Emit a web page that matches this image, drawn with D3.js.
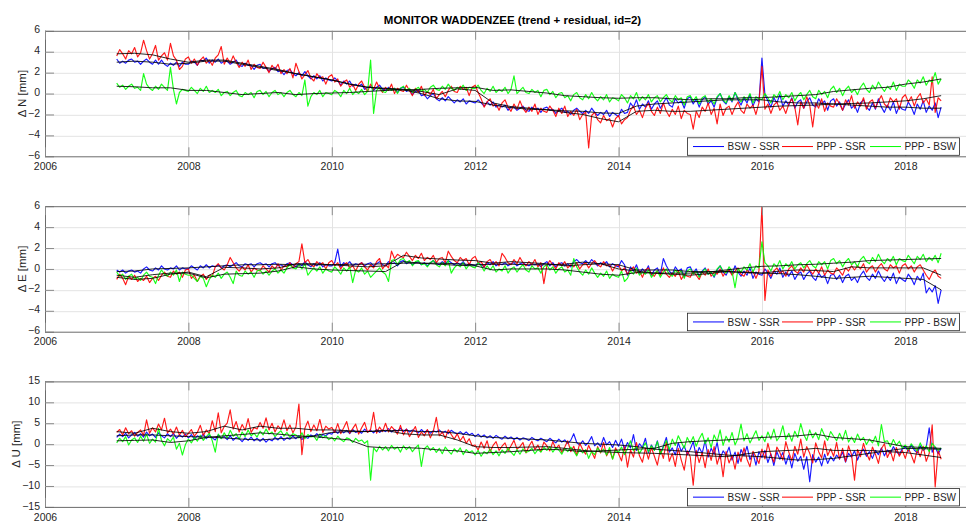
<!DOCTYPE html>
<html><head><meta charset="utf-8">
<script src="https://cdn.jsdelivr.net/npm/d3@7"></script>
<style>
body{margin:0;background:#fff;}
svg{display:block;font-family:"Liberation Sans",Arial,Helvetica,sans-serif;}
</style></head><body>
<svg id="chart" width="966" height="523"></svg>
<script>
// ---------------- DATA ----------------
const chartTitle = "MONITOR WADDENZEE (trend + residual, id=2)";
const seriesNames = ["BSW - SSR", "PPP - SSR", "PPP - BSW"];
const xTickYears = [2006, 2008, 2010, 2012, 2014, 2016, 2018];
const yTicksNE = [-6, -4, -2, 0, 2, 4, 6];
const yTicksU = [-15, -10, -5, 0, 5, 10, 15];
const firstEpoch = 2007.0;        // first sample (decimal year)
const residualStep = 1 / 24;      // residual samples: twice a month
const trendStep = 1 / 4;          // trend samples: once a quarter

// North residual series (mm), 2007.0 .. 2018.5
const N_BSW_SSR = [
3.3,2.9,3.1,2.9,3.2,3.3,3.0,3.1,2.8,3.1,3.3,3.0,2.8,3.2,2.8,3.2,2.8,2.6,2.9,2.7,3.0,2.6,3.0,2.8,
2.8,3.1,3.0,2.7,3.2,3.1,3.4,2.9,3.2,3.0,3.3,2.9,3.1,3.1,2.8,3.0,3.2,2.7,2.6,2.9,2.7,2.7,2.3,2.7,
2.8,2.4,2.5,2.1,2.4,2.5,2.1,2.2,1.8,2.2,2.3,1.9,1.7,2.0,1.7,2.1,1.7,1.4,1.7,1.4,1.7,1.2,1.5,1.3,
1.2,1.5,1.2,0.8,1.2,0.9,1.2,0.7,0.9,0.7,0.9,0.4,0.6,0.7,0.3,0.6,0.8,0.4,0.3,0.6,0.4,0.5,0.1,0.5,
0.6,0.2,0.4,-0.1,0.2,0.3,-0.2,-0.1,-0.5,-0.2,0.0,-0.5,-0.7,-0.4,-0.7,-0.3,-0.6,-0.9,-0.6,-0.8,-0.5,-1.0,-0.7,-0.8,
-0.9,-0.6,-0.9,-1.2,-0.8,-1.1,-0.8,-1.3,-1.1,-1.3,-1.1,-1.6,-1.3,-1.3,-1.6,-1.4,-1.2,-1.6,-1.7,-1.3,-1.5,-1.4,-1.8,-1.4,
-1.3,-1.6,-1.5,-1.9,-1.6,-1.4,-1.8,-1.7,-2.0,-1.6,-1.4,-1.7,-1.9,-1.6,-1.9,-1.4,-1.8,-2.1,-1.8,-2.0,-1.6,-2.2,-1.8,-2.0,
-2.2,-1.5,-1.9,-1.8,-0.9,-1.3,-0.6,-1.5,-1.0,-1.3,-0.7,-1.5,-1.0,-0.7,-1.4,-0.9,-0.4,-1.1,-1.3,-0.5,-0.9,-0.7,-1.4,-0.5,
-0.3,-1.0,-0.5,-1.3,-0.6,-0.3,-1.0,-0.7,-1.3,-0.4,0.0,-0.7,-1.0,-0.3,-0.8,0.1,-0.6,-1.1,-0.4,-0.9,-0.1,-1.2,-0.5,-0.8,
3.4,-0.1,-0.7,-1.3,-0.4,-0.9,-0.1,-1.2,-0.7,-1.1,-0.4,-1.4,-0.8,-0.6,-1.4,-0.8,-0.4,-1.1,-1.3,-0.5,-1.0,-0.7,-1.6,-0.7,
-0.5,-1.2,-0.8,-1.6,-1.0,-0.6,-1.4,-1.1,-1.8,-0.9,-0.6,-1.3,-1.6,-0.9,-1.5,-0.5,-1.3,-1.8,-1.1,-1.6,-0.8,-1.9,-1.2,-1.5,
-1.6,-0.8,-1.3,-2.0,-1.0,-1.5,-0.7,-1.8,-1.2,-1.6,-0.9,-2.3,-1.3];
const N_PPP_SSR = [
3.6,4.2,3.8,3.3,4.1,3.8,4.4,3.5,3.9,5.1,4.1,3.3,3.8,4.6,3.2,3.6,3.9,3.2,4.8,3.6,3.2,2.3,2.6,3.3,
3.5,2.9,3.3,2.7,3.2,3.5,2.9,3.2,2.7,3.4,3.7,4.5,2.8,3.4,2.9,3.6,3.0,2.5,3.0,2.6,3.2,2.3,2.8,2.5,
2.4,3.0,2.5,2.0,2.7,2.3,2.8,1.9,2.3,1.9,2.4,1.5,2.9,2.1,1.4,1.8,2.2,1.5,1.2,1.9,1.5,1.6,0.9,1.6,
1.8,1.1,1.4,0.7,1.1,1.3,0.6,0.9,0.3,0.9,1.2,0.6,0.2,0.9,0.4,1.1,0.5,0.1,0.6,0.3,0.9,0.0,0.5,0.3,
0.2,0.8,0.3,-0.2,0.5,0.1,0.7,-0.2,0.2,-0.1,0.4,-0.5,-0.1,0.2,-0.3,0.3,0.7,0.2,0.1,0.7,0.4,0.6,-0.2,0.6,
0.8,0.1,-0.5,-1.3,-0.8,-0.5,-1.2,-1.0,-1.6,-0.9,-0.6,-1.3,-1.7,-1.0,-1.5,-0.7,-1.4,-1.8,-1.3,-1.7,-1.0,-2.0,-1.4,-1.7,
-1.8,-1.2,-1.6,-2.2,-1.4,-1.9,-1.2,-2.2,-1.7,-2.1,-1.5,-2.5,-2.0,-1.8,-5.2,-2.1,-1.8,-2.5,-2.8,-2.1,-2.6,-2.4,-3.2,-2.4,
-2.1,-2.9,-2.5,-2.3,-1.6,-1.2,-2.0,-1.6,-2.3,-1.4,-0.9,-1.7,-2.1,-1.3,-1.9,-0.9,-1.7,-2.2,-1.5,-2.0,-1.2,-2.4,-1.6,-1.9,
-2.0,-3.4,-1.7,-2.3,-1.3,-1.7,-0.9,-2.0,-1.4,-2.9,-1.0,-2.1,-1.4,-1.2,-2.0,-1.3,-0.8,-1.6,-1.9,-1.0,-1.4,-1.1,-2.0,-0.9,
2.6,-1.5,-1.0,-1.9,-1.1,-0.8,-1.6,-1.2,-1.9,-1.0,-0.5,-1.3,-3.0,-0.8,-1.4,-0.3,-1.1,-3.2,-0.9,-1.4,-0.5,-1.7,-0.9,-1.2,
-1.3,-0.5,-1.0,-1.6,-0.6,-1.1,-0.2,-1.4,-0.8,-1.2,-0.4,-1.5,-0.8,-0.6,-1.4,-0.7,-0.2,-1.0,-1.3,-0.4,-0.8,-0.5,-1.5,-0.4,
-0.1,-0.8,-0.3,-1.2,-0.4,0.0,-0.9,-0.5,-1.1,1.6,-1.8,-0.4,-0.7];
const N_PPP_BSW = [
1.0,0.6,0.8,0.4,0.7,0.9,0.5,0.6,0.3,1.9,0.9,0.5,0.3,0.7,0.4,0.9,0.6,0.3,2.5,0.4,-1.0,0.1,0.4,0.3,
0.2,0.6,0.3,0.0,0.5,0.2,0.7,0.1,0.3,0.1,0.4,-0.2,0.1,0.2,-0.2,0.1,0.3,-0.2,-0.3,0.1,-0.1,0.1,-0.4,0.2,
0.3,-0.1,0.2,-0.3,0.1,0.3,-0.1,0.1,-0.3,0.1,0.3,-0.1,-0.3,0.1,-0.2,1.3,-1.2,-0.3,0.1,-0.1,0.3,-0.3,0.1,0.0,
-0.1,0.3,0.1,-0.3,0.3,0.0,0.5,-0.1,0.2,0.0,0.4,-0.1,0.2,3.2,-1.9,0.3,0.6,0.2,0.1,0.5,0.3,0.5,0.0,0.5,
0.7,0.3,0.5,0.1,0.4,0.6,0.2,0.4,0.1,0.6,0.8,0.4,0.3,0.7,0.4,0.9,0.5,0.3,0.6,0.4,0.8,0.3,0.6,0.5,
0.5,0.8,0.3,0.0,0.5,0.2,0.7,0.1,0.4,0.2,0.6,0.0,0.4,1.7,0.0,0.3,0.6,0.1,0.0,0.4,0.1,0.3,-0.3,0.3,
0.4,-0.1,0.2,-0.4,0.0,0.1,-0.4,-0.2,-0.7,-0.1,0.1,-0.4,-0.6,-0.1,-0.5,0.1,-0.4,-0.7,-0.3,-0.6,-0.1,-0.8,-0.4,-0.5,
-0.7,-0.1,-0.4,-0.9,-0.2,-0.5,0.1,-0.7,-0.3,-0.6,-0.1,-0.8,-0.4,-0.2,-0.8,-0.4,-0.1,-0.6,-0.8,-0.2,-0.6,-0.4,-1.1,-0.3,
-0.2,-0.7,-0.3,-1.0,-0.4,-0.2,-0.8,-0.5,-1.0,-0.3,0.0,-0.6,-0.9,-0.2,-0.7,0.1,-0.4,-0.8,-0.3,-0.6,0.0,-0.9,-0.3,-0.5,
-0.6,0.0,-0.4,-0.9,-0.1,-0.4,0.2,-0.6,-0.1,-0.4,0.1,-0.7,-0.2,0.1,-0.6,-0.1,0.3,-0.3,-0.5,0.3,-0.1,0.2,-0.4,0.4,
0.7,0.1,0.5,-0.2,0.4,0.7,0.1,0.4,-0.1,0.6,1.0,0.4,0.1,0.8,0.4,1.1,0.6,0.2,0.7,0.4,1.1,0.3,0.9,0.7,
0.7,1.3,1.0,0.5,1.3,1.0,1.6,0.8,1.3,1.1,2.0,0.9,1.4];

// East residual series (mm)
const E_BSW_SSR = [
-0.1,-0.3,-0.1,-0.4,-0.2,-0.1,-0.3,-0.2,-0.4,0.0,0.2,-0.1,-0.2,0.1,-0.1,0.3,0.0,-0.1,0.1,0.0,0.3,-0.1,0.1,0.0,
0.0,0.3,0.1,-0.1,0.3,0.1,0.4,0.1,0.3,0.2,0.4,0.1,0.3,0.4,0.2,0.4,0.6,0.3,0.2,0.5,0.4,0.5,0.2,0.5,
0.6,0.4,0.5,0.2,0.5,0.6,0.3,0.4,0.2,0.5,0.6,0.4,0.2,0.5,0.3,0.7,0.4,0.2,0.5,0.3,0.6,0.2,0.4,0.3,
0.3,0.6,1.9,0.2,0.6,0.4,0.7,0.3,0.5,0.4,0.6,0.3,0.5,0.6,0.3,0.5,0.7,0.4,0.3,0.7,0.5,0.6,0.3,0.7,
0.8,0.5,0.7,0.4,0.6,0.7,0.4,0.6,0.3,0.6,0.8,0.5,0.4,0.7,0.5,0.8,0.6,0.4,0.6,0.4,0.7,0.3,0.5,0.4,
0.3,0.6,0.4,0.2,0.6,0.4,0.7,0.3,0.5,0.4,0.6,0.3,0.5,0.6,0.3,0.5,0.6,0.4,0.3,0.5,0.4,0.5,0.2,0.5,
0.7,0.3,0.6,0.2,0.5,0.6,0.3,0.5,0.2,0.7,0.9,0.6,0.5,0.8,0.5,0.9,0.6,0.3,0.6,0.4,0.7,0.2,0.5,0.3,
0.2,0.8,0.4,-0.6,0.2,-0.2,0.4,-0.4,0.0,-0.3,0.3,-0.6,-0.1,0.1,-0.5,1.0,0.3,-0.2,-0.5,0.2,-0.2,0.0,-0.8,0.1,
0.2,-0.4,0.0,-0.7,-0.2,0.1,-0.5,-0.3,-0.8,-0.1,0.3,-0.3,-0.6,0.0,-0.5,0.3,-0.3,-0.7,-0.2,-0.6,0.1,-0.9,-0.3,-0.5,
-0.6,0.0,-0.4,-0.9,-0.2,-0.5,0.1,-0.8,-0.3,-0.7,-0.2,-1.0,-0.5,-0.3,-1.0,-0.5,-0.2,-0.8,-1.1,-0.4,-0.8,-0.6,-1.4,-0.6,
-0.5,-1.0,-0.6,-1.3,-0.7,-0.5,-1.1,-0.8,-1.3,-0.6,-0.2,-0.8,-1.1,-0.5,-0.9,-0.2,-0.8,-1.2,-0.7,-1.1,-0.4,-1.4,-0.8,-1.0,
-1.2,-0.5,-0.9,-1.5,-0.7,-1.1,-0.4,-2.3,-1.8,-2.2,-1.6,-3.3,-2.0];
const E_PPP_SSR = [
-1.0,-0.5,-0.9,-1.5,-0.7,-1.0,-0.6,-1.2,-0.9,-1.1,-0.7,-1.3,-0.9,-0.7,-1.1,-0.6,-0.3,-0.7,-0.8,-0.2,-0.5,-0.3,-0.8,-0.1,
0.0,-0.9,-0.6,-1.2,-0.7,-0.5,-1.0,-0.6,-0.7,0.2,0.5,0.1,-0.1,0.4,1.1,0.6,0.1,-0.2,0.2,-0.1,0.4,-0.3,0.1,-0.1,
-0.2,0.3,0.0,-0.3,0.3,0.0,0.5,-0.1,0.3,0.2,0.6,0.1,0.5,0.7,2.4,0.6,0.9,0.4,0.2,0.7,0.4,0.6,0.0,0.6,
0.8,0.3,0.6,0.0,0.4,0.6,0.1,0.3,-0.2,0.4,0.6,0.2,-0.1,0.4,0.1,0.7,1.0,0.0,0.4,0.1,1.7,1.0,1.4,1.2,
1.1,1.6,1.2,0.8,1.3,1.0,1.5,0.8,1.1,0.9,1.3,0.6,1.0,1.1,0.6,1.7,1.2,0.8,0.6,1.1,0.8,1.0,0.4,1.0,
1.2,0.6,0.7,0.2,0.7,0.9,0.4,0.7,0.3,1.5,1.1,0.6,0.4,0.9,0.5,1.1,0.6,0.3,0.7,0.4,0.9,0.2,0.6,-1.4,
0.3,0.8,0.4,0.0,0.6,0.3,0.7,0.1,0.4,0.2,0.6,0.0,0.4,0.6,0.1,0.5,0.8,0.4,0.2,0.7,0.3,0.4,-0.2,0.3,
0.4,-0.2,0.1,-0.5,-0.1,0.2,-0.4,-0.2,-0.8,-0.1,0.1,-0.5,-0.7,-0.2,-0.6,0.1,-0.5,-0.8,-0.4,-0.7,-0.2,-1.0,-0.5,-0.7,
-0.8,-0.2,-0.6,-1.0,-0.3,-0.6,0.0,-0.7,-0.3,-0.5,0.0,-0.7,-0.2,-0.1,-0.6,-0.2,0.1,-0.5,-0.7,-0.1,-0.4,-0.2,-0.9,-0.2,
6.0,-3.0,-0.1,-0.7,-0.2,0.1,-0.4,-0.2,-0.7,0.0,0.3,-0.2,-0.4,0.1,-0.3,0.4,-0.1,-0.5,0.0,-0.4,0.2,-0.6,-0.1,-0.4,
-0.5,0.1,-0.2,-0.6,0.1,-0.2,0.3,-0.1,0.3,0.0,0.5,-0.3,0.1,0.3,-0.3,0.2,0.5,0.0,-0.2,0.4,0.1,0.3,-0.4,0.3,
0.5,0.0,0.3,-0.3,0.2,0.4,-0.1,-0.6,-1.0,-0.4,-0.1,-0.7,-0.9];
const E_PPP_BSW = [
-0.3,-0.7,-0.5,-1.0,-0.7,-0.5,-1.0,-0.8,-1.1,-0.6,-0.3,-0.7,-0.8,-1.4,-0.6,-0.1,-0.5,-0.7,-0.3,-0.6,-0.1,-1.2,-0.3,-0.5,
-0.6,-0.6,-0.9,-1.2,-0.7,-0.9,-1.7,-1.0,-0.6,-0.8,-0.4,-0.9,-0.5,-0.3,-0.8,-1.4,-0.2,-0.6,-0.7,-0.2,-0.5,-0.3,-0.8,-0.2,
-0.1,-0.5,-0.2,-0.6,-0.2,0.0,-0.4,-0.1,-0.4,0.1,0.4,0.1,0.0,0.4,0.0,0.5,-0.6,-0.2,0.1,-0.2,0.2,-0.4,0.0,-0.2,
-0.3,0.2,-0.1,-0.5,0.1,-0.2,0.2,-1.3,-0.1,-0.3,0.1,-0.5,-0.2,-0.8,-0.5,-0.2,0.1,-0.3,-0.5,-1.2,0.8,0.9,0.4,0.9,
1.0,0.6,0.8,0.3,0.7,0.8,0.4,0.5,0.2,0.6,0.8,0.4,0.2,0.6,0.3,0.8,-0.4,0.1,0.4,0.2,0.6,0.0,0.4,0.2,
0.1,0.6,0.3,-0.2,0.3,-0.1,0.3,-0.3,0.0,-0.2,0.3,-0.4,0.0,0.2,-0.3,0.1,0.4,-0.1,-0.3,0.3,0.0,0.1,-0.4,0.2,
0.4,-0.1,0.2,-0.4,0.0,0.2,-0.3,-0.1,-0.6,1.0,0.2,-0.3,-0.6,-0.1,-0.5,0.1,-0.4,-0.8,-0.4,-0.7,-0.2,-0.9,-0.5,-0.7,
-0.8,-0.2,-1.2,-0.9,-0.2,-0.5,0.1,-0.6,-0.3,-0.5,-0.1,-0.8,-0.4,-0.2,-0.8,-0.3,0.0,-0.5,-0.7,-0.1,-0.4,-0.2,-0.9,-0.2,
0.0,-0.5,-0.2,-0.8,-0.3,0.0,-0.5,-0.3,-0.7,0.0,0.3,-0.2,-0.4,0.2,-0.2,-1.8,0.0,-0.3,0.2,-0.1,0.5,-0.3,0.3,0.1,
2.6,0.6,0.3,-0.2,0.5,0.2,0.8,0.0,0.5,0.2,0.7,0.0,0.4,0.6,0.1,0.5,0.8,0.3,0.1,0.7,0.4,0.7,0.0,0.8,
1.0,0.5,0.8,0.2,0.7,1.0,0.4,0.7,0.2,0.9,1.2,0.7,0.5,1.1,0.7,1.4,0.8,0.5,1.0,0.7,1.2,0.4,1.0,0.8,
0.7,1.3,0.9,0.5,1.2,0.9,1.4,0.7,1.1,0.8,1.3,0.6,1.5];

// Up residual series (mm)
const U_BSW_SSR = [
1.6,2.4,1.8,2.6,1.5,2.2,2.8,1.9,2.5,1.7,2.9,2.0,2.4,1.6,2.7,2.0,1.5,2.5,1.8,2.6,1.4,2.2,1.7,2.4,
1.5,2.3,1.2,2.0,1.6,2.4,1.3,2.1,1.5,1.0,2.2,1.4,1.8,1.1,2.0,0.9,1.6,1.3,0.6,1.5,0.9,1.7,0.8,1.4,
0.7,1.4,0.5,1.2,0.8,1.6,1.0,1.8,0.9,1.5,1.2,1.9,1.3,2.0,1.1,1.7,1.4,2.2,1.8,2.5,1.6,2.3,2.0,2.6,
2.4,3.2,2.6,3.4,2.7,3.3,2.5,3.5,2.8,3.1,2.6,3.6,2.9,3.3,2.7,3.5,2.8,3.4,3.0,3.7,2.9,3.5,3.1,3.8,
3.0,3.6,2.9,3.4,3.1,2.7,3.5,2.8,3.3,2.6,3.2,2.9,3.4,2.7,3.1,2.5,3.3,2.8,2.4,3.0,2.3,2.9,2.2,2.6,
1.8,2.4,1.7,2.2,1.5,2.0,1.4,2.1,1.6,1.2,1.9,1.3,1.7,1.1,1.6,1.0,1.5,1.3,0.9,1.6,1.1,0.8,1.4,1.0,
0.6,1.4,0.8,0.3,1.2,0.5,1.0,0.2,0.9,2.5,0.4,-0.2,0.8,-0.3,0.5,1.8,-0.4,0.3,-0.6,1.6,-0.2,0.6,-0.8,0.9,
-0.5,1.2,-1.3,0.4,-0.9,2.3,-1.5,0.1,-0.8,1.4,-2.0,-0.2,-1.4,0.8,-2.3,-0.5,1.6,-1.9,-0.9,-2.6,0.3,-1.7,-0.4,-2.5,
-1.2,0.6,-2.9,-0.8,-2.2,0.9,-3.1,-1.0,-2.4,0.4,-3.5,-1.6,-2.6,-0.7,-3.8,-1.9,-4.6,-1.3,-2.8,-0.5,-3.7,-2.1,-5.0,-1.8,
-3.2,-1.5,-4.4,-2.3,-5.1,-1.8,-3.6,-2.0,-4.8,-2.6,-5.7,-2.2,-4.1,-2.9,-6.0,-3.0,-9.0,-2.5,-4.3,-3.1,-5.2,-2.4,-4.6,-3.0,
-4.0,-2.6,-3.5,-1.9,-4.3,-2.2,-3.1,-1.6,-3.8,-2.0,-1.2,-2.9,-1.8,-3.4,-1.5,-2.5,-0.9,-2.8,-1.4,-2.2,-0.6,-1.8,-2.5,-1.1,
-0.6,-1.7,-0.2,-1.4,-2.1,-0.4,-1.5,-0.8,3.9,-1.9,-0.7,-2.3,-1.0];
const U_PPP_SSR = [
2.8,3.5,2.2,3.9,2.5,3.2,1.9,2.8,3.4,2.1,5.8,2.6,3.9,2.9,4.8,3.4,6.2,2.7,3.6,2.4,4.1,2.2,3.3,1.8,
2.6,3.5,1.9,2.8,4.5,2.1,3.4,2.5,5.6,3.0,7.5,2.7,4.2,5.0,8.2,3.6,5.4,2.9,4.7,3.3,6.1,2.8,4.0,3.6,
5.2,3.8,6.3,3.4,5.0,2.9,4.4,3.5,5.8,3.2,4.6,2.7,4.1,9.6,-2.5,3.8,5.5,3.0,4.6,3.2,5.9,2.8,4.3,3.6,
4.0,2.8,4.9,2.5,3.9,5.4,2.6,3.7,4.8,2.4,3.9,5.2,2.8,3.5,7.6,2.6,4.1,3.0,5.0,2.9,4.2,3.4,2.4,4.5,
2.2,3.6,1.8,3.0,4.2,1.6,2.9,2.0,3.5,1.5,3.1,6.4,2.0,2.9,1.4,3.4,2.3,1.2,2.5,0.8,1.9,0.2,1.3,-0.4,
-0.2,-1.4,0.5,-1.0,0.8,-1.8,-0.3,0.6,-1.5,-0.5,0.3,-1.6,-0.4,0.9,-1.2,-0.6,0.4,-2.1,-0.5,0.7,-1.3,-0.2,-1.8,0.5,
-0.4,-1.6,0.6,-1.1,-0.2,-2.0,-0.7,0.8,-1.8,-0.5,-2.6,0.2,-1.3,-2.4,-0.3,-1.9,-3.4,-0.6,-2.1,0.4,-2.8,-1.4,-3.5,-0.9,
-2.3,-4.0,-0.6,-5.5,-1.4,-3.1,0.4,-2.8,-4.3,-1.0,-3.6,-0.8,-2.9,-5.0,-1.2,-3.4,0.5,-4.1,-2.2,-5.3,-1.0,-3.8,-6.2,-1.6,
-3.0,-9.8,-1.5,-4.4,-2.0,-5.6,-1.3,-3.9,-0.6,-4.8,-2.4,-7.8,-1.8,-4.5,-2.7,-6.0,-1.9,-4.2,-0.9,-3.6,-5.4,-1.7,-3.0,-4.6,
-1.2,-3.5,0.2,-2.6,-4.3,-0.7,-2.0,-3.8,0.6,-1.9,-4.0,-0.5,-2.4,1.2,-3.1,-0.6,-2.2,-4.5,0.3,-1.8,-3.3,0.8,-2.7,-1.1,
-2.9,0.4,-3.6,-1.0,-4.2,-0.4,-2.5,-8.6,-1.3,-3.0,0.2,-2.2,-3.8,-0.7,-2.4,-4.6,-1.1,0.1,-3.2,-1.6,-4.0,-0.8,-2.9,-1.5,
-3.4,-0.9,-2.6,-4.5,-1.2,-3.0,-0.5,-4.1,-2.2,4.6,-10.2,-1.5,-3.6];
const U_PPP_BSW = [
0.3,1.4,0.6,1.8,-0.2,1.0,1.5,0.4,1.9,0.7,2.4,0.2,1.2,0.5,3.8,0.9,-0.4,1.3,0.6,1.7,-1.2,0.2,-2.6,-0.1,
1.2,0.3,1.6,0.7,2.1,0.9,1.8,2.6,0.8,-1.9,2.4,1.3,2.7,1.5,3.3,1.9,2.5,1.2,2.9,1.8,3.4,2.0,2.6,1.7,
3.1,2.2,3.6,2.4,2.9,1.8,2.6,3.2,1.9,2.8,1.6,2.5,2.2,1.5,2.7,1.3,2.3,1.7,1.9,0.9,2.4,1.5,2.0,1.1,
1.6,0.8,1.9,1.1,0.6,1.5,1.2,0.4,1.4,0.7,1.0,0.2,0.8,-8.6,-0.9,-1.8,-0.5,-1.4,-0.6,-1.6,-0.3,-1.2,-0.7,-1.9,
-0.4,-1.3,-0.6,-1.8,-0.9,-0.2,-5.3,-1.1,-0.4,-1.5,-0.8,-2.0,-1.0,-2.3,-0.7,-1.6,-2.4,-1.1,-1.9,-0.9,-2.5,-1.3,-2.0,-1.6,
-2.6,-1.5,-2.9,-1.8,-2.3,-1.2,-2.5,-1.6,-2.8,-1.4,-2.2,-1.0,-1.9,-2.7,-1.3,-2.4,-1.1,-2.0,-1.7,-1.0,-2.3,-1.3,-1.9,-0.8,
-1.5,-0.6,-1.9,-0.9,-1.4,-2.4,-1.0,-1.8,-0.7,-1.6,-2.8,-1.2,-2.1,-1.3,-3.4,-1.7,-2.5,-0.9,-1.9,-1.2,-2.6,-0.8,-3.6,-1.5,
-1.9,-0.7,-2.5,-1.1,0.8,-1.6,-0.6,-2.2,-1.0,0.3,-1.8,-0.4,-1.5,0.6,-2.4,-0.8,0.9,-1.3,1.2,-0.3,2.0,0.5,-1.0,1.6,
0.2,1.8,-0.5,1.3,2.6,0.1,1.5,-0.8,2.2,0.6,3.4,-0.3,1.9,0.5,2.8,-0.2,1.4,4.8,0.8,2.5,0.3,1.7,3.2,0.9,
2.0,0.6,2.9,1.2,3.6,0.8,1.9,4.4,1.1,2.6,0.7,3.1,1.6,4.9,2.3,0.9,3.4,1.5,2.8,1.1,3.7,2.0,0.9,3.0,
1.9,0.8,2.6,1.0,3.3,0.5,1.7,0.4,2.4,0.9,1.6,-0.1,1.2,0.3,1.9,-0.4,4.7,0.6,0.8,-0.6,1.1,-0.3,0.7,-1.0,
-0.2,-1.3,0.1,-0.9,-1.6,0.3,-1.2,-0.4,-1.8,0.2,-0.7,-1.5,-0.9];

// Trend series (mm), quarterly, 2007.0 .. 2018.5
const N_BSW_SSR_TREND = [3.0,3.1,3.0,2.8, 2.9,3.1,3.1,2.8, 2.5,2.2,1.9,1.6, 1.3,0.9,0.6,0.45, 0.35,0.0,-0.5,-0.7, -0.75,-1.1,-1.35,-1.5, -1.55,-1.65,-1.7,-1.85, -1.9,-1.2,-1.0,-0.9, -0.8,-0.7,-0.6,-0.6, -0.6,-0.8,-0.9,-0.9, -1.0,-1.1,-1.2,-1.3, -1.3,-1.4,-1.4];
const N_PPP_SSR_TREND = [3.8,3.85,3.7,3.3, 3.0,3.2,3.2,2.9, 2.6,2.3,1.9,1.6, 1.3,0.9,0.6,0.5, 0.4,0.2,-0.1,0.45, 0.3,-0.9,-1.25,-1.4, -1.55,-1.8,-2.0,-2.4, -2.7,-1.7,-1.6,-1.7, -1.7,-1.6,-1.5,-1.4, -1.3,-1.2,-1.15,-1.1, -1.0,-0.95,-0.9,-0.8, -0.7,-0.5,-0.2];
const N_PPP_BSW_TREND = [0.7,0.65,0.55,0.55, 0.3,0.3,0.1,-0.1, 0.0,0.1,-0.1,0.0, 0.05,0.1,0.2,0.3, 0.35,0.4,0.5,0.55, 0.6,0.3,0.35,0.2, 0.05,-0.2,-0.3,-0.4, -0.45,-0.4,-0.4,-0.5, -0.6,-0.5,-0.5,-0.4, -0.4,-0.3,-0.2,-0.1, 0.2,0.35,0.5,0.6, 0.9,1.1,1.4];
const E_BSW_SSR_TREND = [-0.25,-0.2,0.0,0.05, 0.1,0.2,0.3,0.4, 0.4,0.45,0.4,0.4, 0.4,0.45,0.45,0.5, 0.55,0.55,0.55,0.5, 0.4,0.45,0.45,0.4, 0.4,0.45,0.65,0.5, 0.4,-0.1,-0.1,-0.1, -0.25,-0.25,-0.25,-0.3, -0.4,-0.45,-0.55,-0.7, -0.9,-0.8,-0.7,-0.8, -0.9,-1.0,-2.0];
const E_PPP_SSR_TREND = [-0.8,-1.0,-0.9,-0.5, -0.3,-0.75,0.15,0.1, 0.0,0.1,0.5,0.5, 0.4,0.3,0.2,0.3, 1.3,1.05,0.95,0.85, 0.8,0.55,0.7,0.6, 0.5,0.3,0.4,0.5, 0.0,-0.2,-0.4,-0.5, -0.6,-0.45,-0.25,-0.35, -0.4,-0.2,-0.1,-0.15, -0.25,0.2,0.1,0.1, 0.1,0.1,-0.6];
const E_PPP_BSW_TREND = [-0.6,-0.8,-0.55,-0.4, -0.4,-0.85,-0.5,-0.45, -0.4,-0.2,0.2,0.0, -0.1,-0.15,-0.2,-0.25, 0.7,0.55,0.45,0.35, 0.3,-0.1,0.0,0.0, 0.0,-0.1,-0.3,-0.5, -0.6,-0.35,-0.4,-0.4, -0.4,-0.3,-0.1,0.1, 0.25,0.3,0.4,0.45, 0.55,0.65,0.8,0.85, 0.9,0.95,1.0];
const U_BSW_SSR_TREND = [2.0,2.2,2.2,2.0, 1.8,1.7,1.5,1.2, 1.0,1.3,1.5,2.0, 2.8,3.0,3.0,3.2, 3.3,3.0,3.0,2.6, 2.0,1.6,1.4,1.2, 1.0,0.6,0.2,0.0, -0.2,-0.6,-1.2,-1.5, -1.8,-2.2,-2.6,-2.8, -3.0,-3.4,-3.8,-3.7, -3.4,-2.8,-2.2,-1.6, -1.0,-1.1,-1.2];
const U_PPP_SSR_TREND = [3.0,2.6,3.8,3.0, 2.6,3.0,4.3,3.4, 4.3,3.8,3.8,3.4, 3.4,3.2,3.0,3.3, 2.5,2.2,2.2,1.0, -0.6,-0.8,-0.8,-0.7, -0.6,-1.0,-1.5,-1.8, -2.0,-2.1,-2.2,-2.4, -2.6,-2.8,-3.0,-2.4, -1.8,-1.6,-1.4,-1.0, -1.5,-1.5,-1.5,-1.8, -2.0,-2.6,-3.2];
const U_PPP_BSW_TREND = [0.8,0.9,1.0,0.4, 0.8,1.6,2.0,2.3, 2.7,2.4,2.0,1.8, 1.4,1.0,-0.6,-0.9, -0.8,-1.0,-1.4,-1.6, -2.2,-2.0,-1.8,-1.5, -1.2,-1.4,-1.8,-1.6, -1.4,-1.2,-1.0,0.2, 0.6,0.8,1.0,1.3, 1.6,1.8,2.0,2.4, 1.6,1.3,1.0,0.2, -0.6,-0.8,-1.0];

// ---------------- CHART ----------------
const svg = d3.select("#chart");
const W = 966, H = 523;
const plotLeft = 45, plotRight = 977;   // axes continue past the figure's right edge
const panelTops = [30.8, 206.2, 381.4];
const panelH = 125.5;
const colors = ["#0000ff", "#ff0000", "#00ff00"];
const axisColor = "#262626";

svg.append("rect").attr("width", W).attr("height", H).attr("fill", "#fff");

const x = d3.scaleLinear().domain([2006, 2019]).range([plotLeft, plotRight]);

const panels = [
  { label: "\u0394 N [mm]", domain: [-6, 6], ticks: yTicksNE, labelX: 25.7,
    res: [N_BSW_SSR, N_PPP_SSR, N_PPP_BSW], trend: [N_BSW_SSR_TREND, N_PPP_SSR_TREND, N_PPP_BSW_TREND] },
  { label: "\u0394 E [mm]", domain: [-6, 6], ticks: yTicksNE, labelX: 25.7,
    res: [E_BSW_SSR, E_PPP_SSR, E_PPP_BSW], trend: [E_BSW_SSR_TREND, E_PPP_SSR_TREND, E_PPP_BSW_TREND] },
  { label: "\u0394 U [mm]", domain: [-15, 15], ticks: yTicksU, labelX: 19.7,
    res: [U_BSW_SSR, U_PPP_SSR, U_PPP_BSW], trend: [U_BSW_SSR_TREND, U_PPP_SSR_TREND, U_PPP_BSW_TREND] }
];

panels.forEach((p, pi) => {
  const g = svg.append("g").attr("transform", `translate(0,${panelTops[pi]})`);
  const y = d3.scaleLinear().domain(p.domain).range([panelH, 0]);

  // grid
  const grid = g.append("g").attr("stroke", "#e3e3e3").attr("stroke-width", 1);
  grid.selectAll("line.h").data(p.ticks.slice(1, -1)).join("line")
    .attr("x1", plotLeft).attr("x2", plotRight)
    .attr("y1", d => Math.round(y(d)) + 0.5).attr("y2", d => Math.round(y(d)) + 0.5);
  grid.selectAll("line.v").data(xTickYears.slice(1)).join("line")
    .attr("x1", d => Math.round(x(d)) + 0.5).attr("x2", d => Math.round(x(d)) + 0.5)
    .attr("y1", 0).attr("y2", panelH);

  // clip
  const clipId = "clip" + pi;
  g.append("clipPath").attr("id", clipId).append("rect")
    .attr("x", plotLeft).attr("y", 0).attr("width", plotRight - plotLeft).attr("height", panelH);
  const plot = g.append("g").attr("clip-path", `url(#${clipId})`);

  const resLine = d3.line()
    .x((d, i) => x(firstEpoch + i * residualStep))
    .y(d => y(d));
  const trendLine = d3.line()
    .x((d, i) => x(firstEpoch + i * trendStep))
    .y(d => y(d));

  p.res.forEach((s, si) => {
    plot.append("path").datum(s).attr("d", resLine)
      .attr("fill", "none").attr("stroke", colors[si])
      .attr("stroke-width", 1.15).attr("stroke-opacity", 0.9)
      .attr("stroke-linejoin", "round");
  });
  p.trend.forEach(s => {
    plot.append("path").datum(s).attr("d", trendLine)
      .attr("fill", "none").attr("stroke", "#000").attr("stroke-width", 0.85);
  });

  // axes (ticks pointing inward, MATLAB style)
  const yAxis = d3.axisLeft(y).tickValues(p.ticks).tickSize(-9).tickPadding(5).tickFormat(d3.format("d"));
  const ya = g.append("g").attr("transform", `translate(${plotLeft},0)`).call(yAxis);
  const xAxis = d3.axisBottom(x).tickValues(xTickYears).tickSize(-9).tickPadding(6.3).tickFormat(d3.format("d"));
  const xa = g.append("g").attr("transform", `translate(0,${panelH})`).call(xAxis);
  const xTop = d3.axisTop(x).tickValues(xTickYears).tickSize(-9).tickFormat("");
  const xt = g.append("g").call(xTop);
  [ya, xa, xt].forEach(a => {
    a.select(".domain").attr("stroke", "#6b6b6b").attr("stroke-width", 1);
    a.selectAll(".tick line").attr("stroke", "#8a8a8a").attr("stroke-width", 1);
    a.selectAll("text").attr("fill", axisColor).attr("font-size", "10.5px")
      .attr("font-family", "'Liberation Sans', Arial, sans-serif");
  });
  ya.selectAll("text").attr("dy", "0.2em");
  ya.select(".domain").attr("d", `M0.5,0V${panelH}`);
  xa.select(".domain").attr("d", `M${plotLeft},0.5H${plotRight}`);
  xt.select(".domain").attr("d", `M${plotLeft},0.5H${plotRight}`);

  // y label
  g.append("text")
    .attr("transform", `translate(${p.labelX},${panelH / 2}) rotate(-90)`)
    .attr("text-anchor", "middle").attr("font-size", "11.5px").attr("fill", axisColor)
    .text(p.label);

  // legend
  const lg = g.append("g").attr("transform", `translate(687,${panelH - 19})`);
  lg.append("rect").attr("x", 0.5).attr("y", 0.5).attr("width", 272).attr("height", 17.5)
    .attr("fill", "#fff").attr("stroke", "#262626").attr("stroke-width", 0.8);
  const entryX = [6, 95, 183];
  seriesNames.forEach((name, si) => {
    const e = lg.append("g").attr("transform", `translate(${entryX[si]},9.25)`);
    e.append("line").attr("x1", 0).attr("x2", 31).attr("y1", 0).attr("y2", 0)
      .attr("stroke", colors[si]).attr("stroke-width", 1);
    e.append("text").attr("x", 34.5).attr("y", 3.6).attr("font-size", "10px")
      .attr("fill", axisColor).text(name);
  });
});

// title
svg.append("text").attr("x", 512.5).attr("y", 23.5).attr("text-anchor", "middle")
  .attr("font-size", "11.5px").attr("font-weight", "bold").attr("fill", "#000")
  .text(chartTitle);
</script>
</body></html>
